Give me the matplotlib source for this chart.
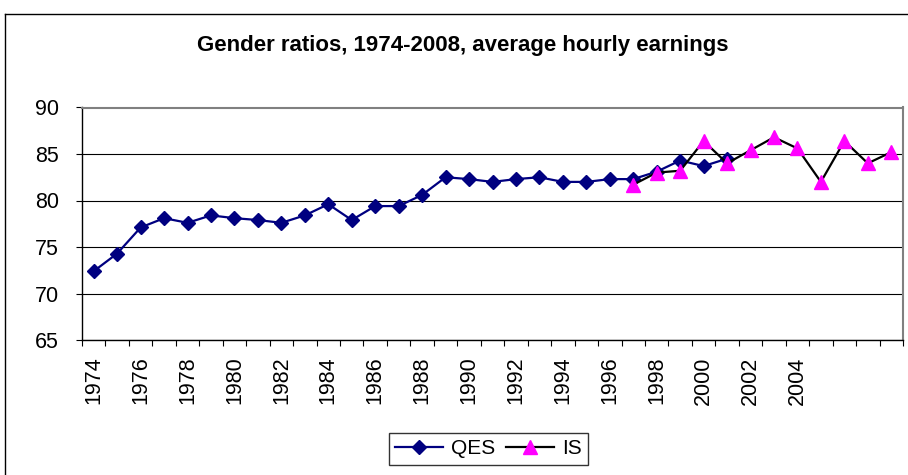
import numpy as np
import matplotlib
matplotlib.use("Agg")
from matplotlib import pyplot as plt

plt.rcParams['font.family'] = ['Liberation Sans', 'DejaVu Sans']

# categories (one per year, labels only on every other year up to 2004)
years = ['1974', '1975', '1976', '1977', '1978', '1979', '1980', '1981', '1982',
         '1983', '1984', '1985', '1986', '1987', '1988', '1989', '1990', '1991',
         '1992', '1993', '1994', '1995', '1996', '1997', '1998', '1999', '2000',
         '2001', '2002', '2003', '2004', '2005', '2006', '2007', '2008']
tick_labels = ['1974', '', '1976', '', '1978', '', '1980', '', '1982', '',
               '1984', '', '1986', '', '1988', '', '1990', '', '1992', '',
               '1994', '', '1996', '', '1998', '', '2000', '', '2002', '',
               '2004', '', '', '', '']

qes = [72.4, 74.3, 77.1, 78.1, 77.6, 78.4, 78.1, 77.9, 77.6, 78.4, 79.6, 77.9,
       79.4, 79.4, 80.6, 82.5, 82.3, 82.0, 82.3, 82.5, 82.0, 82.0, 82.3, 82.3,
       83.1, 84.3, 83.7, 84.5, None, None, None, None, None, None, None]
is_vals = [None] * 23 + [81.7, 83.0, 83.2, 86.4, 84.0, 85.4, 86.8, 85.6, 82.0,
                         86.4, 84.0, 85.2]

W, H = 908, 475
fig = plt.figure(figsize=(W / 100, H / 100), dpi=100)
ax = fig.add_axes([82 / W, 1 - 340 / H, (903 - 82) / W, (340 - 107.5) / H])

x = np.arange(len(years))
q = np.array([np.nan if v is None else v for v in qes], dtype=float)
s = np.array([np.nan if v is None else v for v in is_vals], dtype=float)

ax.plot(x, q, color='#000080', lw=1.6, marker='D', ms=7.5,
        markerfacecolor='#000080', markeredgecolor='#000080', label='QES', zorder=3)
ax.plot(x, s, color='black', lw=1.6, marker='^', ms=10,
        markerfacecolor='#ff00ff', markeredgecolor='#ff00ff', label='IS', zorder=4)

ax.set_xlim(-0.5, len(years) - 0.5)
ax.set_ylim(65, 90)
ax.set_yticks([65, 70, 75, 80, 85, 90])
ax.yaxis.grid(True, color='black', lw=0.8)
ax.set_axisbelow(True)

ax.set_xticks(x)
ax.set_xticklabels(tick_labels, rotation=90)
ax.set_xticks(np.arange(-0.5, len(years), 1.0), minor=True)
ax.tick_params(axis='x', which='major', length=0, pad=12, labelsize=15.5)
ax.tick_params(axis='x', which='minor', length=4.5, width=0.8, direction='out')
ax.tick_params(axis='y', length=4.5, width=0.8, pad=12, labelsize=15.5)

for side in ['left', 'bottom']:
    ax.spines[side].set_color('black')
    ax.spines[side].set_linewidth(1.0)
for side in ['top', 'right']:
    ax.spines[side].set_color('#808080')
    ax.spines[side].set_linewidth(1.5)

fig.text(463 / W, 1 - 46 / H, 'Gender ratios, 1974-2008, average hourly earnings',
         ha='center', va='center', fontsize=16, fontweight='bold')

leg = fig.legend(loc='upper left', bbox_to_anchor=(389 / W, 1 - 433 / H), ncol=2,
                 fontsize=15, frameon=True, fancybox=False, edgecolor='black',
                 handlelength=2.3, columnspacing=0.5, handletextpad=0.4,
                 borderpad=0.3, borderaxespad=0)
leg.get_frame().set_linewidth(1.0)

# chart area border (top and left edges visible)
fig.add_artist(plt.Line2D([5 / W, 5 / W], [0, 1 - 14 / H], color='black', lw=1.0,
                          transform=fig.transFigure))
fig.add_artist(plt.Line2D([5 / W, 1], [1 - 14 / H, 1 - 14 / H], color='black', lw=1.0,
                          transform=fig.transFigure))

fig.savefig('out.png', dpi=100)
